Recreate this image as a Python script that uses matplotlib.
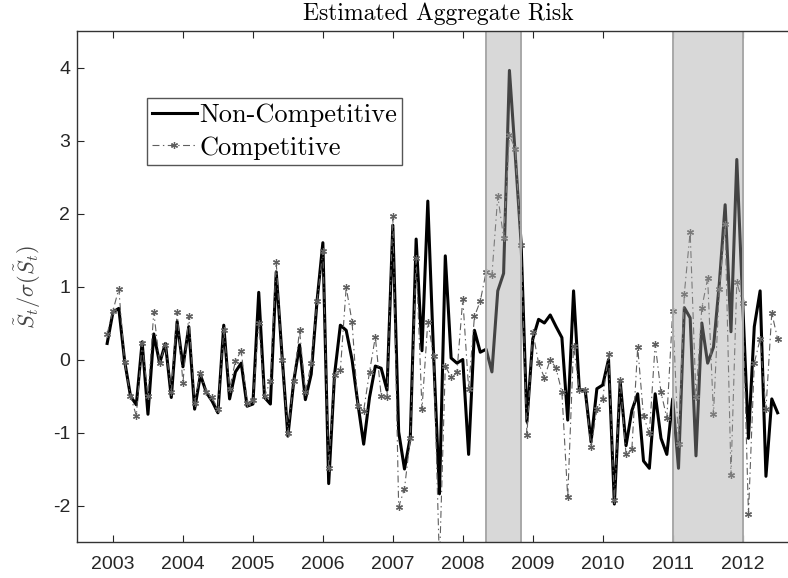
import numpy as np
import matplotlib
matplotlib.use("Agg")
import matplotlib.pyplot as plt

# monthly observations, Dec 2002 .. Jul 2012
start_year = 2002 + 11 / 12
non_competitive = [
    0.22, 0.65, 0.70, -0.02, -0.50, -0.62, 0.24, -0.75, 0.35, -0.05,
    0.22, -0.52, 0.52, -0.10, 0.45, -0.68, -0.21, -0.45, -0.57, -0.73,
    0.47, -0.54, -0.17, -0.05, -0.64, -0.61, 0.92, -0.52, -0.61, 1.20,
    0.05, -1.05, -0.30, 0.20, -0.55, -0.20, 0.80, 1.60, -1.70, -0.21,
    0.47, 0.40, 0.00, -0.60, -1.16, -0.52, -0.09, -0.12, -0.42, 1.84,
    -0.99, -1.50, -1.06, 1.65, 0.12, 2.17, 0.05, -1.84, 1.42, 0.02,
    -0.05, 0.00, -1.30, 0.40, 0.10, 0.14, -0.17, 0.94, 1.18, 3.96,
    2.80, 1.60, -0.85, 0.28, 0.55, 0.50, 0.61, 0.45, 0.30, -0.83,
    0.94, -0.42, -0.42, -1.13, -0.40, -0.35, 0.00, -1.98, -0.30, -1.18,
    -0.70, -0.47, -1.39, -1.49, -0.47, -1.08, -1.30, -0.54, -1.49, 0.71,
    0.57, -1.32, 0.50, -0.05, 0.17, 1.04, 2.12, 0.38, 2.74, 0.80,
    -1.08, 0.45, 0.94, -1.60, -0.54, -0.73,
]
competitive = [
    0.35, 0.67, 0.97, -0.04, -0.50, -0.77, 0.22, -0.50, 0.65, -0.05,
    0.20, -0.45, 0.65, -0.32, 0.60, -0.60, -0.18, -0.45, -0.52, -0.68,
    0.40, -0.40, -0.02, 0.12, -0.60, -0.55, 0.50, -0.50, -0.30, 1.33,
    0.00, -1.00, -0.30, 0.40, -0.45, -0.05, 0.80, 1.49, -1.49, -0.21,
    -0.15, 0.99, 0.52, -0.64, -0.70, -0.17, 0.31, -0.50, -0.52, 1.97,
    -2.02, -1.77, -1.08, 1.39, -0.68, 0.52, 0.05, -2.80, -0.09, -0.24,
    -0.17, 0.83, -0.40, 0.59, 0.80, 1.20, 1.16, 2.24, 1.67, 3.07,
    2.89, 1.57, -1.04, 0.38, -0.05, -0.25, 0.00, -0.12, -0.45, -1.89,
    0.19, -0.42, -0.42, -1.20, -0.68, -0.54, 0.07, -1.93, -0.28, -1.30,
    -1.23, 0.17, -0.78, -1.01, 0.21, -0.45, -0.80, 0.66, -1.16, 0.90,
    1.75, -0.52, 0.71, 1.11, -0.75, 0.97, 1.85, -1.58, 1.06, 0.78,
    -2.12, -0.05, 0.28, -0.68, 0.64, 0.28,
]
shaded_periods = [(2008 + 4 / 12, 2008 + 10 / 12), (2011.0, 2012.0)]
year_ticks = list(range(2003, 2013))
value_ticks = [-2, -1, 0, 1, 2, 3, 4]

dates = start_year + np.arange(len(non_competitive)) / 12

plt.rcParams["font.family"] = ["Liberation Sans", "DejaVu Sans"]
plt.rcParams["mathtext.fontset"] = "cm"
plt.rcParams["axes.unicode_minus"] = False
plt.rcParams["lines.scale_dashes"] = False

fig = plt.figure(figsize=(7.88, 5.78), dpi=100)
ax = fig.add_axes([77.3 / 788, 36 / 578, (800 - 77.3) / 788, 511 / 578])

ax.plot(dates, non_competitive, color="black", lw=2.2, label="Non-Competitive", zorder=2)
ax.plot(dates, competitive, color="#5f5f5f", lw=0.8, linestyle=(0, (5, 2.5, 1, 2.5)),
        marker=(6, 2, 0), markersize=5, markeredgewidth=0.9, label="Competitive", zorder=2.2)

for a, b in shaded_periods:
    ax.axvspan(a, b, facecolor=(0.64, 0.64, 0.64), alpha=0.42, lw=0, zorder=3)
    ax.axvline(a, color="#a8a8a8", lw=1.4, zorder=3.1)
    ax.axvline(b, color="#a8a8a8", lw=1.4, zorder=3.1)

ax.set_xlim(2002.49, 2012.82)
ax.set_ylim(-2.5, 4.5)
ax.set_xticks(year_ticks)
ax.set_yticks(value_ticks)
ax.tick_params(direction="in", length=5, width=0.8, top=True, right=True,
               labelsize=14, colors="#262626")
ax.tick_params(axis="x", pad=10)
ax.tick_params(axis="y", pad=5)
for s in ax.spines.values():
    s.set_color("#333333")
    s.set_linewidth(1.0)
    s.set_zorder(5)

ax.set_title("Estimated Aggregate Risk", family="cmr10", fontsize=17, pad=8)
ax.set_ylabel(r"$\tilde{S}_t/\sigma(\tilde{S}_t)$", fontsize=16, color="#444444")
ax.yaxis.set_label_coords(-0.047, 0.5)

leg = ax.legend(loc="upper left", bbox_to_anchor=(0.096, 0.868), borderaxespad=0,
                prop={"family": "cmr10", "size": 19}, fancybox=False, framealpha=1,
                edgecolor="#555555", borderpad=0.2, handlelength=1.7,
                handletextpad=0.09, labelspacing=0.32)
leg.get_frame().set_linewidth(1.0)

fig.savefig("out.png", dpi=100)
